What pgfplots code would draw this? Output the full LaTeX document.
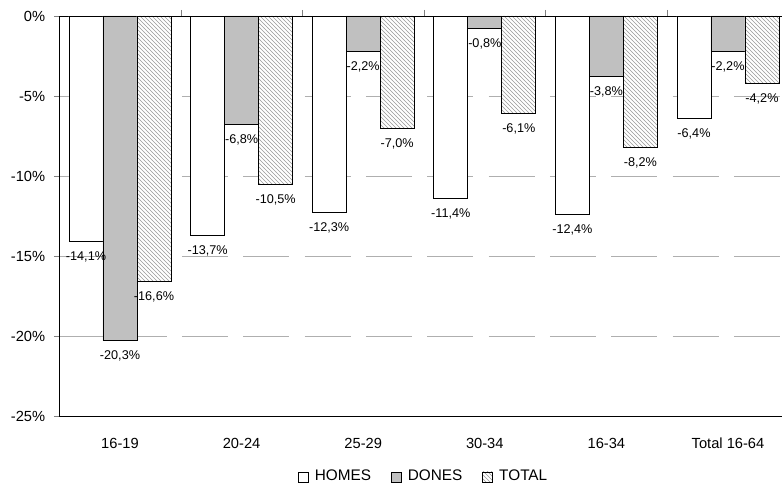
\documentclass[border=0pt]{standalone}
\usepackage{pgfplots}
\pgfplotsset{compat=1.18}
\usepackage{fontspec}
\setmainfont{Liberation Sans}
\usetikzlibrary{patterns}

\definecolor{donesgray}{RGB}{192,192,192}
\definecolor{gridgray}{RGB}{175,175,175}

\begin{document}
\begin{tikzpicture}
\begin{axis}[
  name=ax,
  at={(0,0)}, anchor=south west,
  scale only axis,
  width=547.2pt, height=300pt,
  xmin=-0.5, xmax=5.5,
  ymin=-25, ymax=0,
  ybar=0pt, bar width=25.5pt,
  axis x line*=box, axis y line*=left,
  axis line style={black, line width=0.6pt},
  xtick=data,
  xticklabels={16-19,20-24,25-29,30-34,16-34,Total 16-64},
  minor xtick={0.5,1.5,2.5,3.5,4.5},
  every major x tick/.append style={draw=none},
  minor tick length=4.5pt,
  xtick pos=right, xticklabel pos=left,
  xticklabel style={yshift=-9pt, font=\fontsize{11}{13}\selectfont},
  ytick={-25,-20,...,0},
  ytick align=outside, ytick pos=left,
  major tick length=4pt,
  yticklabel={\pgfmathprintnumber{\tick}\%},
  yticklabel style={xshift=-3pt, font=\fontsize{11}{13}\selectfont},
  /pgf/number format/assume math mode=true,
  ymajorgrids,
  major grid style={gridgray, line width=0.6pt, dash pattern=on 34.5pt off 11.5pt},
  nodes near coords={\pgfmathprintnumber[fixed, fixed zerofill, precision=1, use comma]{\pgfplotspointmeta}\%},
  every node near coord/.append style={font=\fontsize{9.5}{11}\selectfont, black, yshift=-4pt},
  legend columns=-1,
  legend style={at={(0.5,-0.12)}, anchor=north, draw=none,
    font=\fontsize{11.5}{13}\selectfont,
    /tikz/every odd column/.append style={column sep=2.5pt},
    /tikz/every even column/.append style={column sep=13pt}},
  legend image code/.code={\draw[#1] (0pt,-4.5pt) rectangle (7.5pt,3pt);},
  clip=false,
]
% HOMES
\addplot[draw=black, line width=0.6pt, fill=white] coordinates {
(0,-14.1) (1,-13.7) (2,-12.3) (3,-11.4) (4,-12.4) (5,-6.4)
};
% DONES
\addplot[draw=black, line width=0.6pt, fill=donesgray] coordinates {
(0,-20.3) (1,-6.8) (2,-2.2) (3,-0.8) (4,-3.8) (5,-2.2)
};
% TOTAL
\addplot[draw=black, line width=0.6pt, fill=white,
  postaction={pattern=north west lines, pattern color=black!40}] coordinates {
(0,-16.6) (1,-10.5) (2,-7.0) (3,-6.1) (4,-8.2) (5,-4.2)
};
\legend{HOMES, DONES, TOTAL}
\end{axis}
% the reference cuts the plot at its right edge
\pgfresetboundingbox
\path[use as bounding box] (-44.4pt,-51pt) rectangle (542.1pt,312pt);
\end{tikzpicture}
\end{document}
